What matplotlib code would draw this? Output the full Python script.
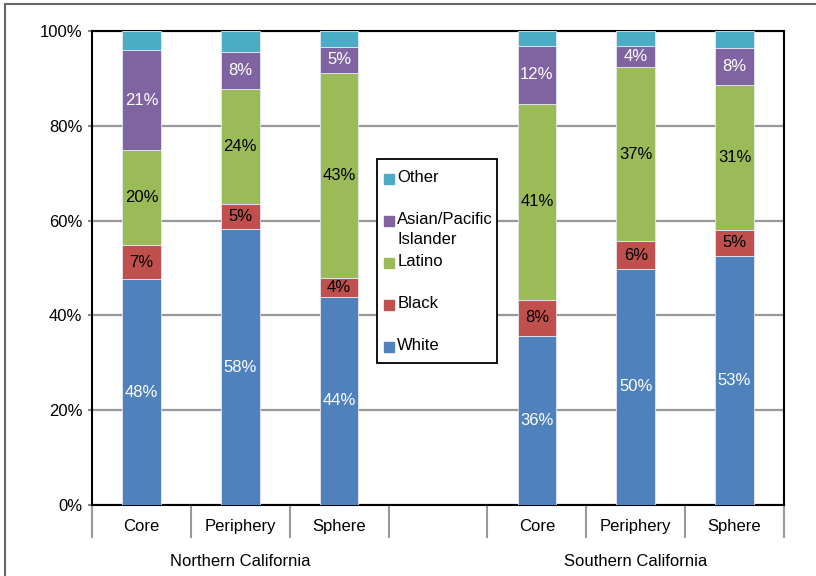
import matplotlib
matplotlib.use("Agg")
import matplotlib.pyplot as plt
import matplotlib.transforms as mtransforms
from matplotlib.patches import Rectangle
import numpy as np

plt.rcParams['font.family'] = ['Liberation Sans', 'DejaVu Sans']

# bar slots (the empty slot separates the two regions)
slots = ["Core", "Periphery", "Sphere", "", "Core", "Periphery", "Sphere"]
bar_pos = [0, 1, 2, 4, 5, 6]
regions = ["Northern California", "Southern California"]
region_center = [1, 5]

# shares in percent, one value per bar
white  = [47.6, 58.2, 43.9, 35.7, 49.8, 52.6]
black  = [7.3, 5.4, 4.0, 7.6, 5.8, 5.4]
latino = [20.0, 24.2, 43.3, 41.3, 36.9, 30.6]
asian  = [21.0, 7.8, 5.4, 12.3, 4.4, 7.9]
other  = [4.1, 4.4, 3.4, 3.1, 3.1, 3.5]

series = [
    ("White", white, "#4F81BD", "white", True),
    ("Black", black, "#C0504D", "black", True),
    ("Latino", latino, "#9BBB59", "black", True),
    ("Asian/Pacific\nIslander", asian, "#8064A2", "white", True),
    ("Other", other, "#4BACC6", "white", False),
]

fig = plt.figure(figsize=(8.16, 5.76), dpi=100)
ax = fig.add_axes([92/816, 71/576, 692/816, 474/576])

bottom = np.zeros(len(bar_pos))
for name, vals, color, txtcolor, show in series:
    vals = np.array(vals)
    ax.bar(bar_pos, vals, bottom=bottom, width=0.39, color=color,
           edgecolor="#e4e8f0", linewidth=0.6, zorder=3)
    if show:
        for x, b, v in zip(bar_pos, bottom, vals):
            ax.text(x, b + v / 2, f"{v:.0f}%", ha="center", va="center",
                    color=txtcolor, fontsize=12, zorder=4)
    bottom += vals

ax.set_xlim(-0.5, 6.5)
ax.set_ylim(0, 100)

# y axis
ax.set_yticks([0, 20, 40, 60, 80, 100])
ax.set_yticklabels([f"{t}%" for t in range(0, 101, 20)], fontsize=12)
ax.tick_params(axis="y", length=3, width=1.5, color="#888888", pad=4)
ax.yaxis.grid(True, color="#999999", linewidth=1.6, zorder=0)
ax.set_axisbelow(True)

# x axis: separators at slot boundaries, labels at slot centers
ax.set_xticks(np.arange(-0.5, 7, 1))
ax.set_xticklabels([])
ax.tick_params(axis="x", which="major", length=24, width=1.5, color="#999999")
ax.set_xticks(np.arange(7), minor=True)
ax.set_xticklabels(slots, minor=True, fontsize=12)
ax.tick_params(axis="x", which="minor", length=0, pad=10)

for sp in ax.spines.values():
    sp.set_color("black")
    sp.set_linewidth(1.5)

trans = mtransforms.blended_transform_factory(ax.transData, ax.transAxes)
for name, xc in zip(regions, region_center):
    ax.text(xc, -0.12, name, transform=trans, ha="center", va="center",
            fontsize=12, clip_on=False)

# legend box
ax.add_patch(Rectangle((0.412, 0.300), 0.173, 0.430, transform=ax.transAxes,
                       facecolor="white", edgecolor="black", linewidth=1.3,
                       zorder=5))
for i, (name, vals, color, txtcolor, show) in enumerate(reversed(series)):
    y = 0.688 - i * 0.0886
    ax.plot([0.429], [y], marker="s", markersize=6.5, color=color,
            transform=ax.transAxes, zorder=6, clip_on=False)
    ax.text(0.441, y + 0.019, name, transform=ax.transAxes, ha="left",
            va="top", fontsize=12, zorder=6, linespacing=1.4)

# outer frame
fig.patches.append(Rectangle((5/816, -0.1), 1.2, 1.1 - 4/576,
                             transform=fig.transFigure, fill=False,
                             edgecolor="#666666", linewidth=1.5))

fig.savefig("out.png", dpi=100)
